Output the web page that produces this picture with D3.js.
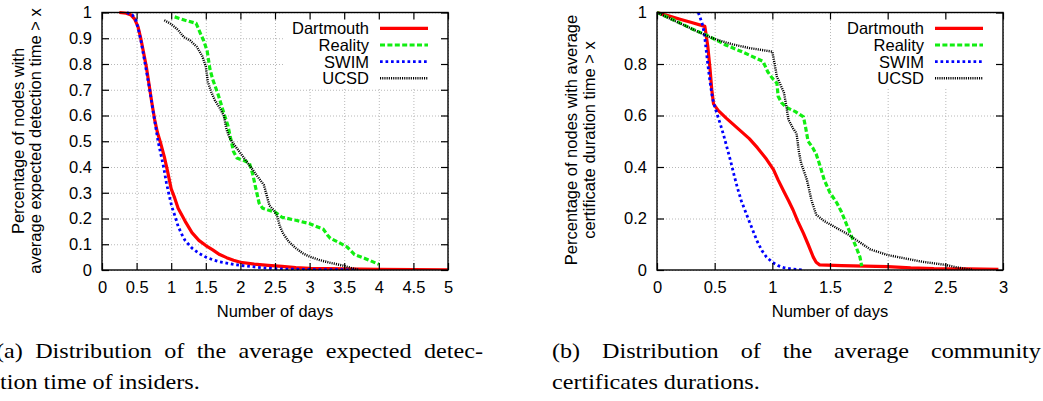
<!DOCTYPE html>
<html><head><meta charset="utf-8">
<script src="https://cdn.jsdelivr.net/npm/d3@7"></script>
<style>
html,body{margin:0;padding:0;background:#fff;}
svg{display:block;}
</style></head><body>
<svg id="fig" width="1043" height="401"></svg>
<script>
// ---- data: [days, fraction of nodes] ----
const seriesNames = ["Dartmouth", "Reality", "SWIM", "UCSD"];

// (a) average expected detection time
const detectDartmouth = [[0.25,1.0],[0.35,0.997],[0.42,0.99],[0.47,0.975],[0.52,0.945],[0.56,0.90],[0.60,0.845],[0.64,0.79],[0.68,0.72],[0.72,0.65],[0.76,0.585],[0.80,0.535],[0.85,0.49],[0.90,0.44],[0.95,0.38],[1.00,0.315],[1.05,0.28],[1.10,0.24],[1.20,0.19],[1.30,0.145],[1.40,0.115],[1.50,0.095],[1.60,0.078],[1.70,0.06],[1.80,0.048],[1.90,0.038],[2.00,0.03],[2.20,0.023],[2.40,0.018],[2.60,0.014],[2.80,0.009],[3.00,0.006],[3.50,0.004],[4.00,0.003],[4.50,0.002],[5.00,0.001]];
const detectReality = [[1.05,0.983],[1.2,0.97],[1.36,0.958],[1.42,0.92],[1.47,0.89],[1.52,0.85],[1.56,0.78],[1.6,0.74],[1.68,0.68],[1.76,0.61],[1.82,0.56],[1.86,0.51],[1.9,0.46],[1.95,0.435],[2.05,0.425],[2.13,0.415],[2.18,0.37],[2.22,0.32],[2.27,0.26],[2.32,0.24],[2.4,0.233],[2.5,0.225],[2.6,0.205],[2.8,0.193],[3.0,0.18],[3.2,0.158],[3.26,0.135],[3.3,0.123],[3.4,0.11],[3.54,0.09],[3.65,0.06],[3.8,0.045],[4.0,0.022]];
const detectSWIM = [[0.36,1.0],[0.44,0.99],[0.49,0.97],[0.53,0.93],[0.57,0.88],[0.61,0.82],[0.65,0.76],[0.69,0.70],[0.73,0.63],[0.77,0.565],[0.81,0.50],[0.85,0.45],[0.89,0.40],[0.93,0.34],[0.97,0.29],[1.01,0.245],[1.06,0.205],[1.10,0.17],[1.15,0.14],[1.20,0.115],[1.30,0.085],[1.40,0.065],[1.50,0.05],[1.60,0.04],[1.70,0.032],[1.80,0.027],[1.90,0.022],[2.00,0.018],[2.20,0.012],[2.40,0.007],[2.60,0.004],[3.00,0.002],[3.50,0.001],[3.70,0]];
const detectUCSD = [[0.9,0.97],[1.0,0.955],[1.1,0.932],[1.18,0.905],[1.28,0.89],[1.37,0.867],[1.45,0.83],[1.5,0.79],[1.53,0.73],[1.58,0.69],[1.63,0.66],[1.7,0.63],[1.76,0.6],[1.8,0.545],[1.85,0.51],[1.9,0.49],[1.97,0.465],[2.04,0.44],[2.12,0.41],[2.19,0.385],[2.27,0.355],[2.34,0.33],[2.38,0.29],[2.42,0.25],[2.48,0.233],[2.53,0.21],[2.57,0.17],[2.62,0.14],[2.7,0.11],[2.8,0.085],[2.9,0.065],[3.0,0.052],[3.15,0.038],[3.3,0.028],[3.5,0.016],[3.6,0.008],[3.7,0.002]];

// (b) average community certificate duration
const certDartmouth = [[0,1],[0.1,0.987],[0.2,0.974],[0.3,0.961],[0.415,0.946],[0.44,0.87],[0.46,0.78],[0.475,0.70],[0.49,0.645],[0.53,0.62],[0.6,0.59],[0.7,0.55],[0.8,0.51],[0.87,0.475],[0.95,0.43],[1.01,0.39],[1.05,0.35],[1.1,0.305],[1.14,0.27],[1.18,0.233],[1.22,0.19],[1.27,0.142],[1.31,0.1],[1.355,0.05],[1.38,0.03],[1.41,0.02],[1.6,0.017],[1.8,0.015],[2.0,0.013],[2.2,0.008],[2.4,0.005],[2.7,0.004],[2.96,0.003]];
const certReality = [[0,1],[0.15,0.97],[0.3,0.937],[0.43,0.912],[0.6,0.873],[0.75,0.845],[0.92,0.81],[0.96,0.77],[1.0,0.745],[1.04,0.725],[1.05,0.675],[1.08,0.65],[1.12,0.632],[1.2,0.615],[1.27,0.595],[1.29,0.55],[1.31,0.5],[1.35,0.475],[1.38,0.45],[1.41,0.41],[1.45,0.35],[1.5,0.3],[1.56,0.26],[1.6,0.225],[1.65,0.17],[1.7,0.117],[1.73,0.085],[1.76,0.05],[1.775,0.015]];
const certSWIM = [[0.358,1],[0.39,0.96],[0.41,0.92],[0.425,0.86],[0.44,0.80],[0.46,0.73],[0.48,0.67],[0.5,0.635],[0.525,0.60],[0.55,0.565],[0.58,0.52],[0.61,0.47],[0.64,0.42],[0.67,0.365],[0.7,0.315],[0.73,0.27],[0.76,0.235],[0.79,0.2],[0.83,0.155],[0.87,0.11],[0.91,0.075],[0.95,0.05],[1.0,0.03],[1.05,0.017],[1.1,0.009],[1.18,0.003],[1.27,0]];
const certUCSD = [[0,1],[0.15,0.968],[0.3,0.937],[0.45,0.906],[0.55,0.89],[0.65,0.877],[0.8,0.862],[1.0,0.848],[1.02,0.8],[1.04,0.75],[1.07,0.72],[1.1,0.69],[1.12,0.64],[1.14,0.583],[1.18,0.55],[1.21,0.53],[1.23,0.46],[1.25,0.414],[1.3,0.35],[1.34,0.27],[1.38,0.215],[1.45,0.19],[1.55,0.165],[1.65,0.14],[1.75,0.11],[1.85,0.08],[2.0,0.058],[2.15,0.045],[2.3,0.032],[2.5,0.02],[2.6,0.01],[2.66,0.006],[2.74,0]];

// ---- ticks and labels ----
const xTicksA = [0, 0.5, 1, 1.5, 2, 2.5, 3, 3.5, 4, 4.5, 5];
const xTickLabelsA = ["0","0.5","1","1.5","2","2.5","3","3.5","4","4.5","5"];
const yTicksA = [0, 0.1, 0.2, 0.3, 0.4, 0.5, 0.6, 0.7, 0.8, 0.9, 1];
const yTickLabelsA = ["0","0.1","0.2","0.3","0.4","0.5","0.6","0.7","0.8","0.9","1"];
const xTicksB = [0, 0.5, 1, 1.5, 2, 2.5, 3];
const xTickLabelsB = ["0","0.5","1","1.5","2","2.5","3"];
const yTicksB = [0, 0.2, 0.4, 0.6, 0.8, 1];
const yTickLabelsB = ["0","0.2","0.4","0.6","0.8","1"];

const xTitle = "Number of days";
const yTitleA = ["Percentage of nodes with", "average expected detection time > x"];
const yTitleB = ["Percentage of nodes with average", "certificate duration time > x"];
const captionA = ["(a) Distribution of the average expected detec-", "tion time of insiders."];
const captionB = ["(b) Distribution of the average community", "certificates durations."];

// ---- styles ----
const lineStyle = {
  Dartmouth: { color: "#ff0000", width: 3.2, dash: null },
  Reality:   { color: "#11ee11", width: 3.2, dash: "5,2.4" },
  SWIM:      { color: "#0000ff", width: 2.8, dash: "2.7,2.8" },
  UCSD:      { color: "#000000", width: 2.4, dash: "1.1,1.1" }
};
const sansFont = "'Liberation Sans', Arial, Helvetica, sans-serif";
const serifFont = "'Liberation Serif', 'Times New Roman', serif";

const svg = d3.select("#fig");
svg.append("rect").attr("width", 1043).attr("height", 401).attr("fill", "#fff");

function drawPanel(cfg) {
  const x = d3.scaleLinear().domain(cfg.xDomain).range([cfg.left, cfg.right]);
  const y = d3.scaleLinear().domain([0, 1]).range([cfg.bottom, cfg.top]);
  const w = cfg.right - cfg.left, h = cfg.bottom - cfg.top;
  const g = svg.append("g").attr("font-family", sansFont);

  // grid
  const gridX = g.append("g").attr("transform", `translate(0,${cfg.bottom})`)
    .call(d3.axisBottom(x).tickValues(cfg.xTicks).tickSize(-h).tickFormat(""));
  const gridY = g.append("g").attr("transform", `translate(${cfg.left},0)`)
    .call(d3.axisLeft(y).tickValues(cfg.yTicks).tickSize(-w).tickFormat(""));
  [gridX, gridY].forEach(s => {
    s.select(".domain").remove();
    s.selectAll("line").attr("stroke", "#b8b8b8").attr("stroke-width", 1).attr("stroke-dasharray", "1,2");
  });

  // opaque key area
  g.append("rect")
    .attr("x", cfg.keyBox[0]).attr("y", cfg.top + 1)
    .attr("width", cfg.right - 1 - cfg.keyBox[0]).attr("height", cfg.keyBox[1] - cfg.top - 1)
    .attr("fill", "#fff");

  // curves
  const clipId = "clip" + cfg.id;
  svg.append("clipPath").attr("id", clipId).append("rect")
    .attr("x", cfg.left).attr("y", cfg.top - 2).attr("width", w).attr("height", h + 2);
  const line = d3.line().x(d => x(d[0])).y(d => y(d[1]));
  const curves = g.append("g").attr("clip-path", `url(#${clipId})`);
  seriesNames.forEach(name => {
    const st = lineStyle[name];
    curves.append("path").datum(cfg.data[name])
      .attr("d", line).attr("fill", "none")
      .attr("stroke", st.color).attr("stroke-width", st.width)
      .attr("stroke-dasharray", st.dash)
      .attr("stroke-linejoin", "round");
  });

  // axes with inward ticks on all four sides
  const tickLen = 7;
  const axB = g.append("g").attr("transform", `translate(0,${cfg.bottom})`)
    .call(d3.axisBottom(x).tickValues(cfg.xTicks).tickSizeInner(-tickLen).tickSizeOuter(0)
      .tickPadding(11).tickFormat((d, i) => cfg.xLabels[i]));
  const axT = g.append("g").attr("transform", `translate(0,${cfg.top})`)
    .call(d3.axisTop(x).tickValues(cfg.xTicks).tickSizeInner(-tickLen).tickSizeOuter(0).tickFormat(""));
  const axL = g.append("g").attr("transform", `translate(${cfg.left},0)`)
    .call(d3.axisLeft(y).tickValues(cfg.yTicks).tickSizeInner(-tickLen).tickSizeOuter(0)
      .tickPadding(10).tickFormat((d, i) => cfg.yLabels[i]));
  const axR = g.append("g").attr("transform", `translate(${cfg.right},0)`)
    .call(d3.axisRight(y).tickValues(cfg.yTicks).tickSizeInner(-tickLen).tickSizeOuter(0).tickFormat(""));
  [axB, axT, axL, axR].forEach(s => {
    s.select(".domain").remove();
    s.selectAll("line").attr("stroke", "#000").attr("stroke-width", 1.2);
    s.selectAll("text").attr("font-family", sansFont).attr("font-size", 16.5).attr("fill", "#000");
  });

  // frame
  g.append("rect").attr("x", cfg.left).attr("y", cfg.top).attr("width", w).attr("height", h)
    .attr("fill", "none").attr("stroke", "#000").attr("stroke-width", 1.4);

  // axis titles
  g.append("text").attr("x", (cfg.left + cfg.right) / 2).attr("y", cfg.bottom + 47)
    .attr("text-anchor", "middle").attr("font-size", 16.5).text(xTitle);
  cfg.yTitle.forEach((t, i) => {
    g.append("text")
      .attr("transform", `translate(${cfg.yTitleX[i]},${cfg.yTitleY}) rotate(-90)`)
      .attr("text-anchor", "middle").attr("font-size", 16.5).text(t);
  });

  // key
  const rowY = [28.3, 45, 61.7, 78.3];
  seriesNames.forEach((name, i) => {
    const st = lineStyle[name];
    g.append("text").attr("x", cfg.keyText).attr("y", rowY[i]).attr("dy", "0.36em")
      .attr("text-anchor", "end").attr("font-size", 16.5).text(name);
    g.append("line").attr("x1", cfg.keyText + 11).attr("x2", cfg.keyText + 59)
      .attr("y1", rowY[i]).attr("y2", rowY[i])
      .attr("stroke", st.color).attr("stroke-width", st.width).attr("stroke-dasharray", st.dash);
  });
}

drawPanel({
  id: "A", left: 102, right: 448, top: 12.5, bottom: 270,
  xDomain: [0, 5], xTicks: xTicksA, xLabels: xTickLabelsA, yTicks: yTicksA, yLabels: yTickLabelsA,
  yTitle: yTitleA, yTitleX: [23.5, 41], yTitleY: 141,
  keyText: 369, keyBox: [284, 88],
  data: { Dartmouth: detectDartmouth, Reality: detectReality, SWIM: detectSWIM, UCSD: detectUCSD }
});
drawPanel({
  id: "B", left: 657, right: 1003, top: 12.5, bottom: 270,
  xDomain: [0, 3], xTicks: xTicksB, xLabels: xTickLabelsB, yTicks: yTicksB, yLabels: yTickLabelsB,
  yTitle: yTitleB, yTitleX: [577, 595], yTitleY: 140,
  keyText: 924, keyBox: [840, 88],
  data: { Dartmouth: certDartmouth, Reality: certReality, SWIM: certSWIM, UCSD: certUCSD }
});

// ---- sub-figure captions (justified first lines) ----
const capSize = 21, capStretch = 1.15;
function captionLine(text, x0, x1, baseline, justify) {
  const g = svg.append("g").attr("transform", `translate(0,${baseline})`)
    .attr("font-family", serifFont).attr("font-size", capSize).attr("fill", "#000");
  const words = text.split(" ");
  if (!justify) {
    g.append("text").attr("transform", `translate(${x0},0) scale(${capStretch},1)`).text(text);
    return;
  }
  const nodes = words.map(wd => g.append("text").text(wd));
  const widths = nodes.map(n => n.node().getComputedTextLength() * capStretch);
  const total = d3.sum(widths);
  const gap = (x1 - x0 - total) / (words.length - 1);
  let cx = x0;
  nodes.forEach((n, i) => {
    n.attr("transform", `translate(${cx},0) scale(${capStretch},1)`);
    cx += widths[i] + gap;
  });
}
captionLine(captionA[0], -4, 483, 358, true);
captionLine(captionA[1], 0, 0, 389, false);
captionLine(captionB[0], 552, 1041, 358, true);
captionLine(captionB[1], 552, 0, 389, false);
</script>
</body></html>
